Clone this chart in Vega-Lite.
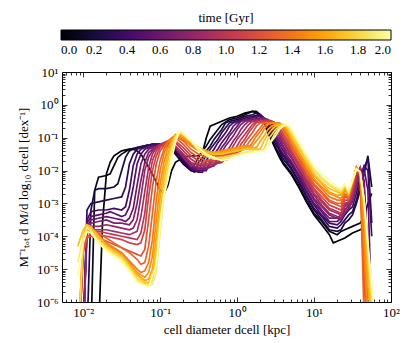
{
"$schema":"https://vega.github.io/schema/vega-lite/v6.json",
"width":329,"height":230,
"autosize":{"type":"none"},
"padding":{"left":62,"top":72,"right":21,"bottom":41},
"background":"white",
"config":{"font":"Liberation Serif","view":{"stroke":null},
"style":{"guide-label":{"font":"Liberation Serif","fill":"black"},"guide-title":{"font":"Liberation Serif","fontWeight":"normal","fill":"black"}},
"axis":{"domainColor":"black","domainWidth":1,"tickColor":"black","tickWidth":0.8,"labelColor":"black","titleColor":"black","labelFont":"Liberation Serif","titleFont":"Liberation Serif","labelFontSize":13,"titleFontSize":13,"titleFontWeight":"normal","grid":false},
"legend":{"labelFont":"Liberation Serif","titleFont":"Liberation Serif","titleFontWeight":"normal","labelFontSize":13,"titleFontSize":13}},
"data":{"values":[
{"t":0,"d":0.0158,"v":1e-7},{"t":0,"d":0.0178,"v":2.51e-4},{"t":0,"d":0.02,"v":7.94e-3},{"t":0,"d":0.0224,"v":0.0178},{"t":0,"d":0.0251,"v":0.0282},{"t":0,"d":0.0316,"v":0.0398},{"t":0,"d":0.0398,"v":0.0447},{"t":0,"d":0.0447,"v":0.0447},{"t":0,"d":0.0501,"v":0.0398},{"t":0,"d":0.0562,"v":0.0316},{"t":0,"d":0.0631,"v":0.02},{"t":0,"d":0.0794,"v":7.94e-3},{"t":0,"d":0.0891,"v":4.47e-3},{"t":0,"d":0.1,"v":2.51e-3},{"t":0,"d":0.112,"v":2e-3},{"t":0,"d":0.126,"v":3.55e-3},{"t":0,"d":0.141,"v":0.01},{"t":0,"d":0.158,"v":0.0178},{"t":0,"d":0.2,"v":0.0251},{"t":0,"d":0.251,"v":0.0282},{"t":0,"d":0.316,"v":0.0282},{"t":0,"d":0.355,"v":0.0355},{"t":0,"d":0.398,"v":0.1},{"t":0,"d":0.447,"v":0.224},{"t":0,"d":0.501,"v":0.251},{"t":0,"d":0.631,"v":0.316},{"t":0,"d":0.794,"v":0.398},{"t":0,"d":1,"v":0.447},{"t":0,"d":1.26,"v":0.562},{"t":0,"d":1.58,"v":0.631},{"t":0,"d":1.78,"v":0.562},{"t":0,"d":2,"v":0.447},{"t":0,"d":2.24,"v":0.282},{"t":0,"d":2.51,"v":0.141},{"t":0,"d":2.82,"v":0.0794},{"t":0,"d":3.16,"v":0.0447},{"t":0,"d":3.55,"v":0.0251},{"t":0,"d":3.98,"v":0.0158},{"t":0,"d":5.01,"v":7.94e-3},{"t":0,"d":6.31,"v":3.16e-3},{"t":0,"d":7.94,"v":1.12e-3},{"t":0,"d":10,"v":4.47e-4},{"t":0,"d":12.6,"v":2.24e-4},{"t":0,"d":15.8,"v":1.12e-4},{"t":0,"d":17.8,"v":6.31e-5},{"t":0,"d":20,"v":7.08e-5},{"t":0,"d":25.1,"v":8.91e-5},{"t":0,"d":31.6,"v":1.26e-4},{"t":0,"d":39.8,"v":1.58e-4},{"t":0,"d":47.9,"v":2e-4},
{"t":0.1,"d":0.0126,"v":1e-7},{"t":0.1,"d":0.0141,"v":2.51e-3},{"t":0.1,"d":0.0158,"v":6.31e-3},{"t":0.1,"d":0.02,"v":7.08e-3},{"t":0.1,"d":0.0224,"v":7.94e-3},{"t":0.1,"d":0.0251,"v":0.0141},{"t":0.1,"d":0.0282,"v":0.0251},{"t":0.1,"d":0.0316,"v":0.0316},{"t":0.1,"d":0.0398,"v":0.0447},{"t":0.1,"d":0.0501,"v":0.0501},{"t":0.1,"d":0.0631,"v":0.0562},{"t":0.1,"d":0.0794,"v":0.0631},{"t":0.1,"d":0.1,"v":0.0631},{"t":0.1,"d":0.126,"v":0.0562},{"t":0.1,"d":0.158,"v":0.0316},{"t":0.1,"d":0.2,"v":0.0158},{"t":0.1,"d":0.251,"v":0.01},{"t":0.1,"d":0.282,"v":0.0158},{"t":0.1,"d":0.316,"v":0.0251},{"t":0.1,"d":0.355,"v":0.0398},{"t":0.1,"d":0.398,"v":0.0562},{"t":0.1,"d":0.447,"v":0.0891},{"t":0.1,"d":0.501,"v":0.126},{"t":0.1,"d":0.562,"v":0.178},{"t":0.1,"d":0.631,"v":0.251},{"t":0.1,"d":0.794,"v":0.355},{"t":0.1,"d":1,"v":0.398},{"t":0.1,"d":1.26,"v":0.501},{"t":0.1,"d":1.58,"v":0.631},{"t":0.1,"d":1.78,"v":0.631},{"t":0.1,"d":2,"v":0.501},{"t":0.1,"d":2.24,"v":0.316},{"t":0.1,"d":2.51,"v":0.158},{"t":0.1,"d":2.82,"v":0.0891},{"t":0.1,"d":3.16,"v":0.0501},{"t":0.1,"d":3.55,"v":0.0316},{"t":0.1,"d":3.98,"v":0.0178},{"t":0.1,"d":5.01,"v":8.91e-3},{"t":0.1,"d":6.31,"v":3.55e-3},{"t":0.1,"d":7.94,"v":1.26e-3},{"t":0.1,"d":10,"v":5.01e-4},{"t":0.1,"d":12.6,"v":2.82e-4},{"t":0.1,"d":15.8,"v":1.41e-4},{"t":0.1,"d":20,"v":1.12e-4},{"t":0.1,"d":22.4,"v":1.41e-4},{"t":0.1,"d":25.1,"v":1.58e-4},{"t":0.1,"d":31.6,"v":2e-4},{"t":0.1,"d":39.8,"v":2.51e-4},{"t":0.1,"d":44.7,"v":3.98e-4},{"t":0.1,"d":50.1,"v":1e-3},{"t":0.1,"d":56.2,"v":2e-3},
{"t":0.2,"d":0.0112,"v":1e-7},{"t":0.2,"d":0.0126,"v":6.31e-4},{"t":0.2,"d":0.0141,"v":2.51e-3},{"t":0.2,"d":0.0158,"v":2.82e-3},{"t":0.2,"d":0.02,"v":2.82e-3},{"t":0.2,"d":0.0251,"v":3.16e-3},{"t":0.2,"d":0.0282,"v":3.98e-3},{"t":0.2,"d":0.0316,"v":0.01},{"t":0.2,"d":0.0355,"v":0.0251},{"t":0.2,"d":0.0398,"v":0.0398},{"t":0.2,"d":0.0501,"v":0.0501},{"t":0.2,"d":0.0631,"v":0.0562},{"t":0.2,"d":0.0794,"v":0.0631},{"t":0.2,"d":0.1,"v":0.0631},{"t":0.2,"d":0.126,"v":0.0562},{"t":0.2,"d":0.158,"v":0.0355},{"t":0.2,"d":0.2,"v":0.0178},{"t":0.2,"d":0.251,"v":0.01},{"t":0.2,"d":0.282,"v":8.91e-3},{"t":0.2,"d":0.316,"v":0.0178},{"t":0.2,"d":0.355,"v":0.0251},{"t":0.2,"d":0.398,"v":0.0398},{"t":0.2,"d":0.447,"v":0.0562},{"t":0.2,"d":0.501,"v":0.0891},{"t":0.2,"d":0.562,"v":0.126},{"t":0.2,"d":0.631,"v":0.178},{"t":0.2,"d":0.708,"v":0.282},{"t":0.2,"d":0.794,"v":0.316},{"t":0.2,"d":1,"v":0.355},{"t":0.2,"d":1.26,"v":0.447},{"t":0.2,"d":1.58,"v":0.501},{"t":0.2,"d":1.78,"v":0.562},{"t":0.2,"d":2,"v":0.501},{"t":0.2,"d":2.24,"v":0.355},{"t":0.2,"d":2.51,"v":0.2},{"t":0.2,"d":2.82,"v":0.112},{"t":0.2,"d":3.16,"v":0.0631},{"t":0.2,"d":3.55,"v":0.0398},{"t":0.2,"d":3.98,"v":0.0224},{"t":0.2,"d":5.01,"v":0.0112},{"t":0.2,"d":6.31,"v":4.47e-3},{"t":0.2,"d":7.94,"v":1.58e-3},{"t":0.2,"d":10,"v":6.31e-4},{"t":0.2,"d":12.6,"v":3.16e-4},{"t":0.2,"d":15.8,"v":1.58e-4},{"t":0.2,"d":20,"v":1.41e-4},{"t":0.2,"d":22.4,"v":1.58e-4},{"t":0.2,"d":25.1,"v":2.51e-4},{"t":0.2,"d":28.2,"v":3.16e-4},{"t":0.2,"d":31.6,"v":4.47e-4},{"t":0.2,"d":35.5,"v":1e-3},{"t":0.2,"d":39.8,"v":2.51e-3},{"t":0.2,"d":44.7,"v":7.94e-3},{"t":0.2,"d":50.1,"v":0.0282},{"t":0.2,"d":56.2,"v":3.16e-3},
{"t":0.3,"d":0.01,"v":1e-7},{"t":0.3,"d":0.0112,"v":6.31e-4},{"t":0.3,"d":0.0126,"v":1e-3},{"t":0.3,"d":0.0158,"v":1.12e-3},{"t":0.3,"d":0.02,"v":1.26e-3},{"t":0.3,"d":0.0251,"v":1.41e-3},{"t":0.3,"d":0.0316,"v":1.58e-3},{"t":0.3,"d":0.0355,"v":3.16e-3},{"t":0.3,"d":0.0398,"v":0.0158},{"t":0.3,"d":0.0447,"v":0.0316},{"t":0.3,"d":0.0501,"v":0.0447},{"t":0.3,"d":0.0631,"v":0.0562},{"t":0.3,"d":0.0794,"v":0.0631},{"t":0.3,"d":0.1,"v":0.0631},{"t":0.3,"d":0.126,"v":0.0562},{"t":0.3,"d":0.158,"v":0.0398},{"t":0.3,"d":0.2,"v":0.02},{"t":0.3,"d":0.251,"v":0.0112},{"t":0.3,"d":0.316,"v":8.91e-3},{"t":0.3,"d":0.355,"v":0.02},{"t":0.3,"d":0.398,"v":0.0282},{"t":0.3,"d":0.447,"v":0.0447},{"t":0.3,"d":0.501,"v":0.0631},{"t":0.3,"d":0.562,"v":0.0891},{"t":0.3,"d":0.631,"v":0.141},{"t":0.3,"d":0.708,"v":0.2},{"t":0.3,"d":0.794,"v":0.282},{"t":0.3,"d":1,"v":0.316},{"t":0.3,"d":1.26,"v":0.398},{"t":0.3,"d":1.58,"v":0.447},{"t":0.3,"d":2,"v":0.501},{"t":0.3,"d":2.24,"v":0.398},{"t":0.3,"d":2.51,"v":0.224},{"t":0.3,"d":2.82,"v":0.126},{"t":0.3,"d":3.16,"v":0.0794},{"t":0.3,"d":3.55,"v":0.0447},{"t":0.3,"d":3.98,"v":0.0282},{"t":0.3,"d":5.01,"v":0.0126},{"t":0.3,"d":6.31,"v":5.01e-3},{"t":0.3,"d":7.94,"v":1.78e-3},{"t":0.3,"d":10,"v":7.08e-4},{"t":0.3,"d":12.6,"v":3.98e-4},{"t":0.3,"d":15.8,"v":2e-4},{"t":0.3,"d":20,"v":1.78e-4},{"t":0.3,"d":22.4,"v":2.24e-4},{"t":0.3,"d":25.1,"v":3.16e-4},{"t":0.3,"d":28.2,"v":4.47e-4},{"t":0.3,"d":31.6,"v":5.62e-4},{"t":0.3,"d":35.5,"v":1.26e-3},{"t":0.3,"d":39.8,"v":3.98e-3},{"t":0.3,"d":44.7,"v":0.0126},{"t":0.3,"d":50.1,"v":0.0224},{"t":0.3,"d":56.2,"v":2.51e-4},
{"t":0.4,"d":0.01,"v":1e-7},{"t":0.4,"d":0.0112,"v":3.16e-4},{"t":0.4,"d":0.0126,"v":5.62e-4},{"t":0.4,"d":0.0158,"v":6.31e-4},{"t":0.4,"d":0.02,"v":6.31e-4},{"t":0.4,"d":0.0251,"v":7.08e-4},{"t":0.4,"d":0.0316,"v":6.31e-4},{"t":0.4,"d":0.0355,"v":7.94e-4},{"t":0.4,"d":0.0398,"v":2.51e-3},{"t":0.4,"d":0.0447,"v":0.0141},{"t":0.4,"d":0.0501,"v":0.0316},{"t":0.4,"d":0.0562,"v":0.0447},{"t":0.4,"d":0.0631,"v":0.0501},{"t":0.4,"d":0.0794,"v":0.0631},{"t":0.4,"d":0.1,"v":0.0631},{"t":0.4,"d":0.126,"v":0.0562},{"t":0.4,"d":0.158,"v":0.0447},{"t":0.4,"d":0.2,"v":0.0224},{"t":0.4,"d":0.251,"v":0.0112},{"t":0.4,"d":0.316,"v":8.91e-3},{"t":0.4,"d":0.355,"v":8.91e-3},{"t":0.4,"d":0.398,"v":0.02},{"t":0.4,"d":0.447,"v":0.0316},{"t":0.4,"d":0.501,"v":0.0447},{"t":0.4,"d":0.562,"v":0.0708},{"t":0.4,"d":0.631,"v":0.1},{"t":0.4,"d":0.708,"v":0.141},{"t":0.4,"d":0.794,"v":0.224},{"t":0.4,"d":0.891,"v":0.282},{"t":0.4,"d":1,"v":0.316},{"t":0.4,"d":1.26,"v":0.355},{"t":0.4,"d":1.58,"v":0.398},{"t":0.4,"d":2,"v":0.501},{"t":0.4,"d":2.24,"v":0.398},{"t":0.4,"d":2.51,"v":0.251},{"t":0.4,"d":2.82,"v":0.141},{"t":0.4,"d":3.16,"v":0.0891},{"t":0.4,"d":3.55,"v":0.0501},{"t":0.4,"d":3.98,"v":0.0316},{"t":0.4,"d":5.01,"v":0.0158},{"t":0.4,"d":6.31,"v":6.31e-3},{"t":0.4,"d":7.94,"v":2.24e-3},{"t":0.4,"d":10,"v":8.91e-4},{"t":0.4,"d":12.6,"v":4.47e-4},{"t":0.4,"d":15.8,"v":2.51e-4},{"t":0.4,"d":20,"v":2.24e-4},{"t":0.4,"d":22.4,"v":2.82e-4},{"t":0.4,"d":25.1,"v":4.47e-4},{"t":0.4,"d":28.2,"v":6.31e-4},{"t":0.4,"d":31.6,"v":7.94e-4},{"t":0.4,"d":35.5,"v":2e-3},{"t":0.4,"d":39.8,"v":6.31e-3},{"t":0.4,"d":44.7,"v":0.0141},{"t":0.4,"d":50.1,"v":0.01},{"t":0.4,"d":56.2,"v":1e-4},
{"t":0.5,"d":0.01,"v":1e-7},{"t":0.5,"d":0.0112,"v":2.51e-4},{"t":0.5,"d":0.0126,"v":3.98e-4},{"t":0.5,"d":0.0158,"v":4.47e-4},{"t":0.5,"d":0.02,"v":5.01e-4},{"t":0.5,"d":0.0224,"v":5.62e-4},{"t":0.5,"d":0.0251,"v":5.01e-4},{"t":0.5,"d":0.0316,"v":3.98e-4},{"t":0.5,"d":0.0355,"v":4.47e-4},{"t":0.5,"d":0.0398,"v":7.94e-4},{"t":0.5,"d":0.0447,"v":3.16e-3},{"t":0.5,"d":0.0501,"v":0.0158},{"t":0.5,"d":0.0562,"v":0.0316},{"t":0.5,"d":0.0631,"v":0.0447},{"t":0.5,"d":0.0794,"v":0.0562},{"t":0.5,"d":0.1,"v":0.0631},{"t":0.5,"d":0.126,"v":0.0631},{"t":0.5,"d":0.158,"v":0.0447},{"t":0.5,"d":0.2,"v":0.0251},{"t":0.5,"d":0.251,"v":0.0126},{"t":0.5,"d":0.316,"v":0.01},{"t":0.5,"d":0.398,"v":0.01},{"t":0.5,"d":0.447,"v":0.02},{"t":0.5,"d":0.501,"v":0.0316},{"t":0.5,"d":0.562,"v":0.0447},{"t":0.5,"d":0.631,"v":0.0708},{"t":0.5,"d":0.708,"v":0.1},{"t":0.5,"d":0.794,"v":0.141},{"t":0.5,"d":0.891,"v":0.224},{"t":0.5,"d":1,"v":0.282},{"t":0.5,"d":1.26,"v":0.355},{"t":0.5,"d":1.58,"v":0.398},{"t":0.5,"d":2,"v":0.447},{"t":0.5,"d":2.24,"v":0.398},{"t":0.5,"d":2.51,"v":0.282},{"t":0.5,"d":2.82,"v":0.178},{"t":0.5,"d":3.16,"v":0.112},{"t":0.5,"d":3.55,"v":0.0631},{"t":0.5,"d":3.98,"v":0.0398},{"t":0.5,"d":4.47,"v":0.0251},{"t":0.5,"d":5.01,"v":0.0178},{"t":0.5,"d":6.31,"v":7.08e-3},{"t":0.5,"d":7.94,"v":2.51e-3},{"t":0.5,"d":10,"v":1e-3},{"t":0.5,"d":12.6,"v":5.62e-4},{"t":0.5,"d":15.8,"v":2.82e-4},{"t":0.5,"d":20,"v":2.82e-4},{"t":0.5,"d":22.4,"v":3.55e-4},{"t":0.5,"d":25.1,"v":6.31e-4},{"t":0.5,"d":28.2,"v":8.91e-4},{"t":0.5,"d":31.6,"v":1.26e-3},{"t":0.5,"d":35.5,"v":3.16e-3},{"t":0.5,"d":39.8,"v":0.01},{"t":0.5,"d":44.7,"v":0.0112},{"t":0.5,"d":50.1,"v":2.51e-3},{"t":0.5,"d":56.2,"v":3.16e-7},
{"t":0.6,"d":0.01,"v":1e-7},{"t":0.6,"d":0.0112,"v":2e-4},{"t":0.6,"d":0.0126,"v":3.16e-4},{"t":0.6,"d":0.0158,"v":3.55e-4},{"t":0.6,"d":0.02,"v":3.98e-4},{"t":0.6,"d":0.0251,"v":3.55e-4},{"t":0.6,"d":0.0316,"v":3.16e-4},{"t":0.6,"d":0.0355,"v":2.82e-4},{"t":0.6,"d":0.0398,"v":3.55e-4},{"t":0.6,"d":0.0447,"v":7.08e-4},{"t":0.6,"d":0.0501,"v":3.55e-3},{"t":0.6,"d":0.0562,"v":0.0158},{"t":0.6,"d":0.0631,"v":0.0316},{"t":0.6,"d":0.0708,"v":0.0447},{"t":0.6,"d":0.0794,"v":0.0501},{"t":0.6,"d":0.1,"v":0.0631},{"t":0.6,"d":0.126,"v":0.0631},{"t":0.6,"d":0.158,"v":0.0501},{"t":0.6,"d":0.2,"v":0.0282},{"t":0.6,"d":0.251,"v":0.0141},{"t":0.6,"d":0.316,"v":0.0112},{"t":0.6,"d":0.398,"v":0.0112},{"t":0.6,"d":0.447,"v":0.0158},{"t":0.6,"d":0.501,"v":0.0224},{"t":0.6,"d":0.562,"v":0.0316},{"t":0.6,"d":0.631,"v":0.0501},{"t":0.6,"d":0.708,"v":0.0708},{"t":0.6,"d":0.794,"v":0.112},{"t":0.6,"d":0.891,"v":0.158},{"t":0.6,"d":1,"v":0.224},{"t":0.6,"d":1.12,"v":0.316},{"t":0.6,"d":1.26,"v":0.355},{"t":0.6,"d":1.58,"v":0.355},{"t":0.6,"d":2,"v":0.398},{"t":0.6,"d":2.24,"v":0.398},{"t":0.6,"d":2.51,"v":0.316},{"t":0.6,"d":2.82,"v":0.2},{"t":0.6,"d":3.16,"v":0.126},{"t":0.6,"d":3.55,"v":0.0794},{"t":0.6,"d":3.98,"v":0.0501},{"t":0.6,"d":4.47,"v":0.0282},{"t":0.6,"d":5.01,"v":0.02},{"t":0.6,"d":6.31,"v":7.94e-3},{"t":0.6,"d":7.94,"v":3.16e-3},{"t":0.6,"d":10,"v":1.26e-3},{"t":0.6,"d":12.6,"v":6.31e-4},{"t":0.6,"d":15.8,"v":3.55e-4},{"t":0.6,"d":20,"v":3.55e-4},{"t":0.6,"d":22.4,"v":4.47e-4},{"t":0.6,"d":25.1,"v":8.91e-4},{"t":0.6,"d":28.2,"v":1.12e-3},{"t":0.6,"d":31.6,"v":1.78e-3},{"t":0.6,"d":35.5,"v":6.31e-3},{"t":0.6,"d":39.8,"v":0.0126},{"t":0.6,"d":44.7,"v":5.01e-3},{"t":0.6,"d":50.1,"v":3.16e-5},{"t":0.6,"d":56.2,"v":3.16e-7},
{"t":0.7,"d":0.01,"v":1e-7},{"t":0.7,"d":0.0112,"v":1.58e-4},{"t":0.7,"d":0.0126,"v":2.51e-4},{"t":0.7,"d":0.0158,"v":2.82e-4},{"t":0.7,"d":0.02,"v":3.16e-4},{"t":0.7,"d":0.0251,"v":2.51e-4},{"t":0.7,"d":0.0316,"v":2.51e-4},{"t":0.7,"d":0.0398,"v":2.24e-4},{"t":0.7,"d":0.0447,"v":3.16e-4},{"t":0.7,"d":0.0501,"v":1e-3},{"t":0.7,"d":0.0562,"v":5.01e-3},{"t":0.7,"d":0.0631,"v":0.0178},{"t":0.7,"d":0.0708,"v":0.0355},{"t":0.7,"d":0.0794,"v":0.0447},{"t":0.7,"d":0.1,"v":0.0562},{"t":0.7,"d":0.126,"v":0.0631},{"t":0.7,"d":0.158,"v":0.0501},{"t":0.7,"d":0.2,"v":0.0316},{"t":0.7,"d":0.251,"v":0.0158},{"t":0.7,"d":0.316,"v":0.0112},{"t":0.7,"d":0.398,"v":0.0112},{"t":0.7,"d":0.501,"v":0.0141},{"t":0.7,"d":0.562,"v":0.0251},{"t":0.7,"d":0.631,"v":0.0355},{"t":0.7,"d":0.708,"v":0.0562},{"t":0.7,"d":0.794,"v":0.0794},{"t":0.7,"d":0.891,"v":0.112},{"t":0.7,"d":1,"v":0.178},{"t":0.7,"d":1.12,"v":0.251},{"t":0.7,"d":1.26,"v":0.316},{"t":0.7,"d":1.58,"v":0.355},{"t":0.7,"d":2,"v":0.355},{"t":0.7,"d":2.24,"v":0.398},{"t":0.7,"d":2.51,"v":0.355},{"t":0.7,"d":2.82,"v":0.251},{"t":0.7,"d":3.16,"v":0.158},{"t":0.7,"d":3.55,"v":0.1},{"t":0.7,"d":3.98,"v":0.0562},{"t":0.7,"d":4.47,"v":0.0355},{"t":0.7,"d":5.01,"v":0.0251},{"t":0.7,"d":6.31,"v":0.01},{"t":0.7,"d":7.94,"v":3.55e-3},{"t":0.7,"d":10,"v":1.41e-3},{"t":0.7,"d":12.6,"v":7.94e-4},{"t":0.7,"d":15.8,"v":4.47e-4},{"t":0.7,"d":20,"v":3.55e-4},{"t":0.7,"d":22.4,"v":3.16e-4},{"t":0.7,"d":25.1,"v":5.01e-4},{"t":0.7,"d":28.2,"v":7.08e-4},{"t":0.7,"d":31.6,"v":1.12e-3},{"t":0.7,"d":35.5,"v":3.16e-3},{"t":0.7,"d":39.8,"v":0.0112},{"t":0.7,"d":44.7,"v":3.16e-3},{"t":0.7,"d":50.1,"v":3.16e-7},
{"t":0.8,"d":0.01,"v":1e-7},{"t":0.8,"d":0.0112,"v":1.26e-4},{"t":0.8,"d":0.0126,"v":2e-4},{"t":0.8,"d":0.0158,"v":2e-4},{"t":0.8,"d":0.02,"v":2.24e-4},{"t":0.8,"d":0.0251,"v":2e-4},{"t":0.8,"d":0.0316,"v":1.78e-4},{"t":0.8,"d":0.0398,"v":1.58e-4},{"t":0.8,"d":0.0447,"v":1.78e-4},{"t":0.8,"d":0.0501,"v":3.16e-4},{"t":0.8,"d":0.0562,"v":1.58e-3},{"t":0.8,"d":0.0631,"v":0.01},{"t":0.8,"d":0.0708,"v":0.0251},{"t":0.8,"d":0.0794,"v":0.0398},{"t":0.8,"d":0.1,"v":0.0562},{"t":0.8,"d":0.126,"v":0.0708},{"t":0.8,"d":0.158,"v":0.0501},{"t":0.8,"d":0.2,"v":0.0251},{"t":0.8,"d":0.251,"v":0.0141},{"t":0.8,"d":0.316,"v":0.0126},{"t":0.8,"d":0.398,"v":0.0126},{"t":0.8,"d":0.501,"v":0.0141},{"t":0.8,"d":0.631,"v":0.0224},{"t":0.8,"d":0.708,"v":0.0355},{"t":0.8,"d":0.794,"v":0.0501},{"t":0.8,"d":0.891,"v":0.0794},{"t":0.8,"d":1,"v":0.112},{"t":0.8,"d":1.12,"v":0.178},{"t":0.8,"d":1.26,"v":0.251},{"t":0.8,"d":1.41,"v":0.316},{"t":0.8,"d":1.58,"v":0.316},{"t":0.8,"d":2,"v":0.355},{"t":0.8,"d":2.51,"v":0.355},{"t":0.8,"d":2.82,"v":0.282},{"t":0.8,"d":3.16,"v":0.2},{"t":0.8,"d":3.55,"v":0.126},{"t":0.8,"d":3.98,"v":0.0708},{"t":0.8,"d":4.47,"v":0.0447},{"t":0.8,"d":5.01,"v":0.0282},{"t":0.8,"d":6.31,"v":0.0112},{"t":0.8,"d":7.94,"v":4.47e-3},{"t":0.8,"d":10,"v":1.78e-3},{"t":0.8,"d":12.6,"v":8.91e-4},{"t":0.8,"d":15.8,"v":5.01e-4},{"t":0.8,"d":20,"v":3.98e-4},{"t":0.8,"d":22.4,"v":3.55e-4},{"t":0.8,"d":25.1,"v":6.31e-4},{"t":0.8,"d":28.2,"v":7.94e-4},{"t":0.8,"d":31.6,"v":1.41e-3},{"t":0.8,"d":35.5,"v":4.47e-3},{"t":0.8,"d":39.8,"v":0.0126},{"t":0.8,"d":44.7,"v":1e-3},{"t":0.8,"d":50.1,"v":3.16e-7},
{"t":0.9,"d":0.00891,"v":1e-7},{"t":0.9,"d":0.01,"v":6.31e-5},{"t":0.9,"d":0.0112,"v":1.41e-4},{"t":0.9,"d":0.0126,"v":1.58e-4},{"t":0.9,"d":0.0158,"v":1.58e-4},{"t":0.9,"d":0.02,"v":1.58e-4},{"t":0.9,"d":0.0251,"v":1.41e-4},{"t":0.9,"d":0.0316,"v":1.26e-4},{"t":0.9,"d":0.0398,"v":1.12e-4},{"t":0.9,"d":0.0501,"v":1.41e-4},{"t":0.9,"d":0.0562,"v":3.98e-4},{"t":0.9,"d":0.0631,"v":2.24e-3},{"t":0.9,"d":0.0708,"v":0.0126},{"t":0.9,"d":0.0794,"v":0.0316},{"t":0.9,"d":0.0891,"v":0.0501},{"t":0.9,"d":0.1,"v":0.0631},{"t":0.9,"d":0.126,"v":0.0794},{"t":0.9,"d":0.158,"v":0.0562},{"t":0.9,"d":0.2,"v":0.0316},{"t":0.9,"d":0.251,"v":0.0178},{"t":0.9,"d":0.316,"v":0.0141},{"t":0.9,"d":0.398,"v":0.0141},{"t":0.9,"d":0.501,"v":0.0158},{"t":0.9,"d":0.631,"v":0.0178},{"t":0.9,"d":0.708,"v":0.0224},{"t":0.9,"d":0.794,"v":0.0355},{"t":0.9,"d":0.891,"v":0.0562},{"t":0.9,"d":1,"v":0.0891},{"t":0.9,"d":1.12,"v":0.126},{"t":0.9,"d":1.26,"v":0.178},{"t":0.9,"d":1.41,"v":0.251},{"t":0.9,"d":1.58,"v":0.316},{"t":0.9,"d":2,"v":0.316},{"t":0.9,"d":2.51,"v":0.355},{"t":0.9,"d":2.82,"v":0.316},{"t":0.9,"d":3.16,"v":0.224},{"t":0.9,"d":3.55,"v":0.141},{"t":0.9,"d":3.98,"v":0.0891},{"t":0.9,"d":4.47,"v":0.0501},{"t":0.9,"d":5.01,"v":0.0355},{"t":0.9,"d":6.31,"v":0.0141},{"t":0.9,"d":7.94,"v":5.01e-3},{"t":0.9,"d":10,"v":2e-3},{"t":0.9,"d":12.6,"v":1.12e-3},{"t":0.9,"d":15.8,"v":6.31e-4},{"t":0.9,"d":20,"v":5.01e-4},{"t":0.9,"d":22.4,"v":4.47e-4},{"t":0.9,"d":25.1,"v":7.94e-4},{"t":0.9,"d":28.2,"v":1e-3},{"t":0.9,"d":31.6,"v":1.78e-3},{"t":0.9,"d":35.5,"v":6.31e-3},{"t":0.9,"d":39.8,"v":0.0126},{"t":0.9,"d":44.7,"v":3.16e-4},{"t":0.9,"d":50.1,"v":3.16e-7},
{"t":1.0,"d":0.00891,"v":1e-7},{"t":1.0,"d":0.01,"v":5.01e-5},{"t":1.0,"d":0.0112,"v":1.26e-4},{"t":1.0,"d":0.0126,"v":1.41e-4},{"t":1.0,"d":0.0158,"v":1.41e-4},{"t":1.0,"d":0.02,"v":1.26e-4},{"t":1.0,"d":0.0251,"v":1.12e-4},{"t":1.0,"d":0.0316,"v":1e-4},{"t":1.0,"d":0.0398,"v":8.91e-5},{"t":1.0,"d":0.0501,"v":7.94e-5},{"t":1.0,"d":0.0562,"v":1.26e-4},{"t":1.0,"d":0.0631,"v":5.01e-4},{"t":1.0,"d":0.0708,"v":5.01e-3},{"t":1.0,"d":0.0794,"v":0.02},{"t":1.0,"d":0.0891,"v":0.0398},{"t":1.0,"d":0.1,"v":0.0562},{"t":1.0,"d":0.126,"v":0.0794},{"t":1.0,"d":0.141,"v":0.0794},{"t":1.0,"d":0.158,"v":0.0708},{"t":1.0,"d":0.2,"v":0.0398},{"t":1.0,"d":0.251,"v":0.0224},{"t":1.0,"d":0.316,"v":0.0158},{"t":1.0,"d":0.398,"v":0.0158},{"t":1.0,"d":0.501,"v":0.0178},{"t":1.0,"d":0.631,"v":0.02},{"t":1.0,"d":0.794,"v":0.0224},{"t":1.0,"d":0.891,"v":0.0398},{"t":1.0,"d":1,"v":0.0562},{"t":1.0,"d":1.12,"v":0.0891},{"t":1.0,"d":1.26,"v":0.126},{"t":1.0,"d":1.41,"v":0.178},{"t":1.0,"d":1.58,"v":0.251},{"t":1.0,"d":1.78,"v":0.316},{"t":1.0,"d":2,"v":0.316},{"t":1.0,"d":2.51,"v":0.316},{"t":1.0,"d":2.82,"v":0.316},{"t":1.0,"d":3.16,"v":0.282},{"t":1.0,"d":3.55,"v":0.178},{"t":1.0,"d":3.98,"v":0.1},{"t":1.0,"d":4.47,"v":0.0631},{"t":1.0,"d":5.01,"v":0.0398},{"t":1.0,"d":6.31,"v":0.0158},{"t":1.0,"d":7.94,"v":5.62e-3},{"t":1.0,"d":10,"v":2.51e-3},{"t":1.0,"d":12.6,"v":1.26e-3},{"t":1.0,"d":15.8,"v":7.08e-4},{"t":1.0,"d":20,"v":5.62e-4},{"t":1.0,"d":22.4,"v":5.01e-4},{"t":1.0,"d":25.1,"v":1e-3},{"t":1.0,"d":28.2,"v":1.12e-3},{"t":1.0,"d":31.6,"v":2.24e-3},{"t":1.0,"d":35.5,"v":7.94e-3},{"t":1.0,"d":39.8,"v":0.0112},{"t":1.0,"d":44.7,"v":3.16e-5},{"t":1.0,"d":50.1,"v":1e-7},
{"t":1.1,"d":0.00891,"v":1e-7},{"t":1.1,"d":0.01,"v":3.98e-5},{"t":1.1,"d":0.0112,"v":1e-4},{"t":1.1,"d":0.0126,"v":1.12e-4},{"t":1.1,"d":0.0158,"v":1.12e-4},{"t":1.1,"d":0.02,"v":1e-4},{"t":1.1,"d":0.0251,"v":8.91e-5},{"t":1.1,"d":0.0316,"v":7.94e-5},{"t":1.1,"d":0.0398,"v":6.31e-5},{"t":1.1,"d":0.0501,"v":5.62e-5},{"t":1.1,"d":0.0562,"v":6.31e-5},{"t":1.1,"d":0.0631,"v":1.58e-4},{"t":1.1,"d":0.0708,"v":1.58e-3},{"t":1.1,"d":0.0794,"v":0.01},{"t":1.1,"d":0.0891,"v":0.0282},{"t":1.1,"d":0.1,"v":0.0501},{"t":1.1,"d":0.126,"v":0.0794},{"t":1.1,"d":0.141,"v":0.0891},{"t":1.1,"d":0.158,"v":0.0794},{"t":1.1,"d":0.2,"v":0.0501},{"t":1.1,"d":0.251,"v":0.0282},{"t":1.1,"d":0.316,"v":0.02},{"t":1.1,"d":0.355,"v":0.0178},{"t":1.1,"d":0.501,"v":0.02},{"t":1.1,"d":0.631,"v":0.0251},{"t":1.1,"d":0.794,"v":0.0282},{"t":1.1,"d":1,"v":0.0355},{"t":1.1,"d":1.12,"v":0.0631},{"t":1.1,"d":1.26,"v":0.0891},{"t":1.1,"d":1.41,"v":0.141},{"t":1.1,"d":1.58,"v":0.2},{"t":1.1,"d":1.78,"v":0.282},{"t":1.1,"d":2,"v":0.316},{"t":1.1,"d":2.51,"v":0.316},{"t":1.1,"d":2.82,"v":0.316},{"t":1.1,"d":3.16,"v":0.282},{"t":1.1,"d":3.55,"v":0.2},{"t":1.1,"d":3.98,"v":0.126},{"t":1.1,"d":4.47,"v":0.0794},{"t":1.1,"d":5.01,"v":0.0447},{"t":1.1,"d":6.31,"v":0.0178},{"t":1.1,"d":7.94,"v":7.08e-3},{"t":1.1,"d":10,"v":2.82e-3},{"t":1.1,"d":12.6,"v":1.58e-3},{"t":1.1,"d":15.8,"v":8.91e-4},{"t":1.1,"d":20,"v":7.08e-4},{"t":1.1,"d":22.4,"v":6.31e-4},{"t":1.1,"d":25.1,"v":1.26e-3},{"t":1.1,"d":28.2,"v":1.26e-3},{"t":1.1,"d":31.6,"v":2.82e-3},{"t":1.1,"d":35.5,"v":0.01},{"t":1.1,"d":39.8,"v":8.91e-3},{"t":1.1,"d":44.7,"v":1e-5},{"t":1.1,"d":50.1,"v":1e-7},
{"t":1.2,"d":0.00891,"v":1e-7},{"t":1.2,"d":0.01,"v":3.16e-5},{"t":1.2,"d":0.0112,"v":8.91e-5},{"t":1.2,"d":0.0126,"v":1e-4},{"t":1.2,"d":0.0158,"v":8.91e-5},{"t":1.2,"d":0.02,"v":7.08e-5},{"t":1.2,"d":0.0251,"v":5.62e-5},{"t":1.2,"d":0.0316,"v":4.47e-5},{"t":1.2,"d":0.0398,"v":3.55e-5},{"t":1.2,"d":0.0501,"v":2.82e-5},{"t":1.2,"d":0.0562,"v":2.51e-5},{"t":1.2,"d":0.0631,"v":3.98e-5},{"t":1.2,"d":0.0708,"v":3.16e-4},{"t":1.2,"d":0.0794,"v":3.16e-3},{"t":1.2,"d":0.0891,"v":0.0158},{"t":1.2,"d":0.1,"v":0.0398},{"t":1.2,"d":0.126,"v":0.0794},{"t":1.2,"d":0.158,"v":0.1},{"t":1.2,"d":0.2,"v":0.0631},{"t":1.2,"d":0.251,"v":0.0355},{"t":1.2,"d":0.316,"v":0.0251},{"t":1.2,"d":0.398,"v":0.02},{"t":1.2,"d":0.501,"v":0.0224},{"t":1.2,"d":0.631,"v":0.0282},{"t":1.2,"d":0.794,"v":0.0316},{"t":1.2,"d":1,"v":0.0355},{"t":1.2,"d":1.12,"v":0.0398},{"t":1.2,"d":1.26,"v":0.0708},{"t":1.2,"d":1.41,"v":0.1},{"t":1.2,"d":1.58,"v":0.141},{"t":1.2,"d":1.78,"v":0.224},{"t":1.2,"d":2,"v":0.282},{"t":1.2,"d":2.51,"v":0.282},{"t":1.2,"d":3.16,"v":0.282},{"t":1.2,"d":3.55,"v":0.224},{"t":1.2,"d":3.98,"v":0.141},{"t":1.2,"d":4.47,"v":0.0891},{"t":1.2,"d":5.01,"v":0.0562},{"t":1.2,"d":6.31,"v":0.0224},{"t":1.2,"d":7.94,"v":7.94e-3},{"t":1.2,"d":10,"v":3.55e-3},{"t":1.2,"d":12.6,"v":2e-3},{"t":1.2,"d":15.8,"v":1.12e-3},{"t":1.2,"d":20,"v":8.91e-4},{"t":1.2,"d":22.4,"v":7.94e-4},{"t":1.2,"d":25.1,"v":1.58e-3},{"t":1.2,"d":28.2,"v":1.41e-3},{"t":1.2,"d":31.6,"v":3.55e-3},{"t":1.2,"d":35.5,"v":0.0112},{"t":1.2,"d":39.8,"v":7.94e-3},{"t":1.2,"d":44.7,"v":3.16e-6},{"t":1.2,"d":50.1,"v":1e-7},
{"t":1.3,"d":0.00891,"v":1e-7},{"t":1.3,"d":0.01,"v":3.98e-5},{"t":1.3,"d":0.0112,"v":1.41e-4},{"t":1.3,"d":0.0126,"v":1.58e-4},{"t":1.3,"d":0.0158,"v":1.26e-4},{"t":1.3,"d":0.02,"v":8.91e-5},{"t":1.3,"d":0.0251,"v":6.31e-5},{"t":1.3,"d":0.0316,"v":4.47e-5},{"t":1.3,"d":0.0398,"v":3.16e-5},{"t":1.3,"d":0.0501,"v":2e-5},{"t":1.3,"d":0.0562,"v":1.41e-5},{"t":1.3,"d":0.0631,"v":1.58e-5},{"t":1.3,"d":0.0708,"v":5.01e-5},{"t":1.3,"d":0.0794,"v":5.01e-4},{"t":1.3,"d":0.0891,"v":5.01e-3},{"t":1.3,"d":0.1,"v":0.02},{"t":1.3,"d":0.112,"v":0.0447},{"t":1.3,"d":0.126,"v":0.0794},{"t":1.3,"d":0.158,"v":0.112},{"t":1.3,"d":0.2,"v":0.0794},{"t":1.3,"d":0.251,"v":0.0447},{"t":1.3,"d":0.316,"v":0.0316},{"t":1.3,"d":0.398,"v":0.0251},{"t":1.3,"d":0.501,"v":0.0282},{"t":1.3,"d":0.631,"v":0.0316},{"t":1.3,"d":0.794,"v":0.0355},{"t":1.3,"d":1,"v":0.0398},{"t":1.3,"d":1.26,"v":0.0447},{"t":1.3,"d":1.41,"v":0.0708},{"t":1.3,"d":1.58,"v":0.1},{"t":1.3,"d":1.78,"v":0.141},{"t":1.3,"d":2,"v":0.2},{"t":1.3,"d":2.24,"v":0.282},{"t":1.3,"d":2.82,"v":0.282},{"t":1.3,"d":3.16,"v":0.282},{"t":1.3,"d":3.55,"v":0.251},{"t":1.3,"d":3.98,"v":0.178},{"t":1.3,"d":4.47,"v":0.112},{"t":1.3,"d":5.01,"v":0.0631},{"t":1.3,"d":6.31,"v":0.0251},{"t":1.3,"d":7.94,"v":0.01},{"t":1.3,"d":10,"v":3.98e-3},{"t":1.3,"d":12.6,"v":2.24e-3},{"t":1.3,"d":15.8,"v":1.26e-3},{"t":1.3,"d":20,"v":1e-3},{"t":1.3,"d":22.4,"v":1e-3},{"t":1.3,"d":25.1,"v":1.78e-3},{"t":1.3,"d":28.2,"v":1.41e-3},{"t":1.3,"d":31.6,"v":3.98e-3},{"t":1.3,"d":35.5,"v":0.0126},{"t":1.3,"d":39.8,"v":7.08e-3},{"t":1.3,"d":44.7,"v":3.16e-7},{"t":1.3,"d":50.1,"v":1e-7},
{"t":1.4,"d":0.00891,"v":3.16e-7},{"t":1.4,"d":0.01,"v":6.31e-5},{"t":1.4,"d":0.0112,"v":1.78e-4},{"t":1.4,"d":0.0126,"v":1.78e-4},{"t":1.4,"d":0.0158,"v":1.12e-4},{"t":1.4,"d":0.02,"v":6.31e-5},{"t":1.4,"d":0.0251,"v":4.47e-5},{"t":1.4,"d":0.0316,"v":3.16e-5},{"t":1.4,"d":0.0398,"v":1.78e-5},{"t":1.4,"d":0.0501,"v":1e-5},{"t":1.4,"d":0.0562,"v":7.94e-6},{"t":1.4,"d":0.0631,"v":8.91e-6},{"t":1.4,"d":0.0708,"v":1.58e-5},{"t":1.4,"d":0.0794,"v":7.94e-5},{"t":1.4,"d":0.0891,"v":1.26e-3},{"t":1.4,"d":0.1,"v":0.01},{"t":1.4,"d":0.112,"v":0.0316},{"t":1.4,"d":0.126,"v":0.0708},{"t":1.4,"d":0.141,"v":0.1},{"t":1.4,"d":0.158,"v":0.112},{"t":1.4,"d":0.2,"v":0.0891},{"t":1.4,"d":0.251,"v":0.0562},{"t":1.4,"d":0.316,"v":0.0398},{"t":1.4,"d":0.398,"v":0.0316},{"t":1.4,"d":0.501,"v":0.0316},{"t":1.4,"d":0.631,"v":0.0355},{"t":1.4,"d":0.794,"v":0.0398},{"t":1.4,"d":1,"v":0.0447},{"t":1.4,"d":1.26,"v":0.0501},{"t":1.4,"d":1.41,"v":0.0501},{"t":1.4,"d":1.58,"v":0.0708},{"t":1.4,"d":1.78,"v":0.112},{"t":1.4,"d":2,"v":0.158},{"t":1.4,"d":2.24,"v":0.224},{"t":1.4,"d":2.51,"v":0.282},{"t":1.4,"d":3.16,"v":0.282},{"t":1.4,"d":3.55,"v":0.251},{"t":1.4,"d":3.98,"v":0.2},{"t":1.4,"d":4.47,"v":0.126},{"t":1.4,"d":5.01,"v":0.0794},{"t":1.4,"d":6.31,"v":0.0316},{"t":1.4,"d":7.94,"v":0.0112},{"t":1.4,"d":10,"v":5.01e-3},{"t":1.4,"d":12.6,"v":2.82e-3},{"t":1.4,"d":15.8,"v":1.58e-3},{"t":1.4,"d":20,"v":1.26e-3},{"t":1.4,"d":22.4,"v":1.26e-3},{"t":1.4,"d":25.1,"v":2e-3},{"t":1.4,"d":28.2,"v":1.58e-3},{"t":1.4,"d":31.6,"v":3.98e-3},{"t":1.4,"d":35.5,"v":0.0126},{"t":1.4,"d":39.8,"v":7.94e-3},{"t":1.4,"d":44.7,"v":3.16e-5},{"t":1.4,"d":50.1,"v":1e-7},
{"t":1.5,"d":0.00891,"v":3.16e-7},{"t":1.5,"d":0.01,"v":1e-4},{"t":1.5,"d":0.0112,"v":2e-4},{"t":1.5,"d":0.0126,"v":1.78e-4},{"t":1.5,"d":0.0158,"v":1e-4},{"t":1.5,"d":0.02,"v":5.62e-5},{"t":1.5,"d":0.0251,"v":3.98e-5},{"t":1.5,"d":0.0316,"v":2.82e-5},{"t":1.5,"d":0.0398,"v":1.58e-5},{"t":1.5,"d":0.0501,"v":7.94e-6},{"t":1.5,"d":0.0631,"v":5.62e-6},{"t":1.5,"d":0.0708,"v":7.94e-6},{"t":1.5,"d":0.0794,"v":2.51e-5},{"t":1.5,"d":0.0891,"v":3.16e-4},{"t":1.5,"d":0.1,"v":3.98e-3},{"t":1.5,"d":0.112,"v":0.0178},{"t":1.5,"d":0.126,"v":0.0501},{"t":1.5,"d":0.141,"v":0.0891},{"t":1.5,"d":0.158,"v":0.126},{"t":1.5,"d":0.2,"v":0.1},{"t":1.5,"d":0.251,"v":0.0631},{"t":1.5,"d":0.316,"v":0.0447},{"t":1.5,"d":0.398,"v":0.0355},{"t":1.5,"d":0.501,"v":0.0355},{"t":1.5,"d":0.631,"v":0.0398},{"t":1.5,"d":0.794,"v":0.0447},{"t":1.5,"d":1,"v":0.0501},{"t":1.5,"d":1.26,"v":0.0562},{"t":1.5,"d":1.58,"v":0.0562},{"t":1.5,"d":1.78,"v":0.0794},{"t":1.5,"d":2,"v":0.112},{"t":1.5,"d":2.24,"v":0.178},{"t":1.5,"d":2.51,"v":0.251},{"t":1.5,"d":2.82,"v":0.282},{"t":1.5,"d":3.55,"v":0.282},{"t":1.5,"d":3.98,"v":0.224},{"t":1.5,"d":4.47,"v":0.158},{"t":1.5,"d":5.01,"v":0.0891},{"t":1.5,"d":6.31,"v":0.0355},{"t":1.5,"d":7.94,"v":0.0141},{"t":1.5,"d":10,"v":5.62e-3},{"t":1.5,"d":12.6,"v":3.16e-3},{"t":1.5,"d":15.8,"v":2e-3},{"t":1.5,"d":20,"v":1.58e-3},{"t":1.5,"d":22.4,"v":1.41e-3},{"t":1.5,"d":25.1,"v":2.51e-3},{"t":1.5,"d":28.2,"v":1.78e-3},{"t":1.5,"d":31.6,"v":4.47e-3},{"t":1.5,"d":35.5,"v":0.0126},{"t":1.5,"d":39.8,"v":7.94e-3},{"t":1.5,"d":44.7,"v":1.58e-4},{"t":1.5,"d":50.1,"v":3.16e-7},
{"t":1.6,"d":0.00891,"v":3.16e-7},{"t":1.6,"d":0.01,"v":1e-4},{"t":1.6,"d":0.0112,"v":2.24e-4},{"t":1.6,"d":0.0126,"v":2e-4},{"t":1.6,"d":0.0158,"v":1e-4},{"t":1.6,"d":0.02,"v":5.01e-5},{"t":1.6,"d":0.0251,"v":3.55e-5},{"t":1.6,"d":0.0316,"v":2.51e-5},{"t":1.6,"d":0.0398,"v":1.41e-5},{"t":1.6,"d":0.0501,"v":7.08e-6},{"t":1.6,"d":0.0631,"v":4.47e-6},{"t":1.6,"d":0.0708,"v":5.01e-6},{"t":1.6,"d":0.0794,"v":1e-5},{"t":1.6,"d":0.0891,"v":1e-4},{"t":1.6,"d":0.1,"v":1.58e-3},{"t":1.6,"d":0.112,"v":0.01},{"t":1.6,"d":0.126,"v":0.0316},{"t":1.6,"d":0.141,"v":0.0794},{"t":1.6,"d":0.158,"v":0.112},{"t":1.6,"d":0.178,"v":0.126},{"t":1.6,"d":0.2,"v":0.112},{"t":1.6,"d":0.251,"v":0.0708},{"t":1.6,"d":0.316,"v":0.0501},{"t":1.6,"d":0.398,"v":0.0398},{"t":1.6,"d":0.501,"v":0.0355},{"t":1.6,"d":0.631,"v":0.0355},{"t":1.6,"d":0.794,"v":0.0398},{"t":1.6,"d":1,"v":0.0447},{"t":1.6,"d":1.26,"v":0.0501},{"t":1.6,"d":1.58,"v":0.0501},{"t":1.6,"d":1.78,"v":0.0501},{"t":1.6,"d":2,"v":0.0794},{"t":1.6,"d":2.24,"v":0.112},{"t":1.6,"d":2.51,"v":0.178},{"t":1.6,"d":2.82,"v":0.224},{"t":1.6,"d":3.16,"v":0.251},{"t":1.6,"d":3.98,"v":0.251},{"t":1.6,"d":4.47,"v":0.178},{"t":1.6,"d":5.01,"v":0.1},{"t":1.6,"d":6.31,"v":0.0398},{"t":1.6,"d":7.94,"v":0.0158},{"t":1.6,"d":10,"v":7.08e-3},{"t":1.6,"d":12.6,"v":3.98e-3},{"t":1.6,"d":15.8,"v":2.24e-3},{"t":1.6,"d":20,"v":1.78e-3},{"t":1.6,"d":22.4,"v":1.78e-3},{"t":1.6,"d":25.1,"v":2.82e-3},{"t":1.6,"d":28.2,"v":2e-3},{"t":1.6,"d":31.6,"v":4.47e-3},{"t":1.6,"d":35.5,"v":0.0112},{"t":1.6,"d":39.8,"v":8.91e-3},{"t":1.6,"d":44.7,"v":5.01e-4},{"t":1.6,"d":50.1,"v":3.16e-6},{"t":1.6,"d":56.2,"v":1e-7},
{"t":1.7,"d":0.00851,"v":5.01e-5},{"t":1.7,"d":0.01,"v":1.58e-4},{"t":1.7,"d":0.0112,"v":2.24e-4},{"t":1.7,"d":0.0126,"v":1.78e-4},{"t":1.7,"d":0.0158,"v":1e-4},{"t":1.7,"d":0.02,"v":5.01e-5},{"t":1.7,"d":0.0251,"v":3.55e-5},{"t":1.7,"d":0.0316,"v":2.51e-5},{"t":1.7,"d":0.0398,"v":1.26e-5},{"t":1.7,"d":0.0501,"v":6.31e-6},{"t":1.7,"d":0.0631,"v":3.98e-6},{"t":1.7,"d":0.0708,"v":3.98e-6},{"t":1.7,"d":0.0794,"v":6.31e-6},{"t":1.7,"d":0.0891,"v":3.98e-5},{"t":1.7,"d":0.1,"v":6.31e-4},{"t":1.7,"d":0.112,"v":5.01e-3},{"t":1.7,"d":0.126,"v":0.02},{"t":1.7,"d":0.141,"v":0.0631},{"t":1.7,"d":0.158,"v":0.112},{"t":1.7,"d":0.178,"v":0.141},{"t":1.7,"d":0.2,"v":0.126},{"t":1.7,"d":0.251,"v":0.0794},{"t":1.7,"d":0.316,"v":0.0501},{"t":1.7,"d":0.398,"v":0.0355},{"t":1.7,"d":0.501,"v":0.0316},{"t":1.7,"d":0.631,"v":0.0316},{"t":1.7,"d":0.794,"v":0.0355},{"t":1.7,"d":1,"v":0.0398},{"t":1.7,"d":1.26,"v":0.0447},{"t":1.7,"d":1.58,"v":0.0447},{"t":1.7,"d":2,"v":0.0447},{"t":1.7,"d":2.24,"v":0.0794},{"t":1.7,"d":2.51,"v":0.126},{"t":1.7,"d":2.82,"v":0.178},{"t":1.7,"d":3.16,"v":0.224},{"t":1.7,"d":3.55,"v":0.251},{"t":1.7,"d":3.98,"v":0.251},{"t":1.7,"d":4.47,"v":0.2},{"t":1.7,"d":5.01,"v":0.126},{"t":1.7,"d":6.31,"v":0.0501},{"t":1.7,"d":7.94,"v":0.02},{"t":1.7,"d":10,"v":7.94e-3},{"t":1.7,"d":12.6,"v":4.47e-3},{"t":1.7,"d":15.8,"v":2.82e-3},{"t":1.7,"d":20,"v":2.24e-3},{"t":1.7,"d":22.4,"v":2e-3},{"t":1.7,"d":25.1,"v":3.16e-3},{"t":1.7,"d":28.2,"v":2e-3},{"t":1.7,"d":31.6,"v":5.01e-3},{"t":1.7,"d":35.5,"v":0.0112},{"t":1.7,"d":39.8,"v":8.91e-3},{"t":1.7,"d":44.7,"v":1e-3},{"t":1.7,"d":50.1,"v":1.58e-5},{"t":1.7,"d":56.2,"v":3.16e-7},
{"t":1.8,"d":0.00891,"v":3.16e-7},{"t":1.8,"d":0.01,"v":7.94e-5},{"t":1.8,"d":0.0112,"v":2e-4},{"t":1.8,"d":0.0126,"v":1.58e-4},{"t":1.8,"d":0.0158,"v":7.94e-5},{"t":1.8,"d":0.02,"v":4.47e-5},{"t":1.8,"d":0.0251,"v":3.16e-5},{"t":1.8,"d":0.0316,"v":2.24e-5},{"t":1.8,"d":0.0398,"v":1.12e-5},{"t":1.8,"d":0.0501,"v":5.01e-6},{"t":1.8,"d":0.0631,"v":3.55e-6},{"t":1.8,"d":0.0708,"v":3.55e-6},{"t":1.8,"d":0.0794,"v":4.47e-6},{"t":1.8,"d":0.0891,"v":1.58e-5},{"t":1.8,"d":0.1,"v":2.51e-4},{"t":1.8,"d":0.112,"v":2.51e-3},{"t":1.8,"d":0.126,"v":0.0112},{"t":1.8,"d":0.141,"v":0.0447},{"t":1.8,"d":0.158,"v":0.1},{"t":1.8,"d":0.178,"v":0.141},{"t":1.8,"d":0.2,"v":0.126},{"t":1.8,"d":0.251,"v":0.0794},{"t":1.8,"d":0.316,"v":0.0447},{"t":1.8,"d":0.398,"v":0.0316},{"t":1.8,"d":0.501,"v":0.0251},{"t":1.8,"d":0.631,"v":0.0251},{"t":1.8,"d":0.794,"v":0.0282},{"t":1.8,"d":1,"v":0.0316},{"t":1.8,"d":1.26,"v":0.0355},{"t":1.8,"d":1.58,"v":0.0398},{"t":1.8,"d":2,"v":0.0398},{"t":1.8,"d":2.24,"v":0.0447},{"t":1.8,"d":2.51,"v":0.0891},{"t":1.8,"d":2.82,"v":0.126},{"t":1.8,"d":3.16,"v":0.178},{"t":1.8,"d":3.55,"v":0.224},{"t":1.8,"d":3.98,"v":0.251},{"t":1.8,"d":4.47,"v":0.224},{"t":1.8,"d":5.01,"v":0.141},{"t":1.8,"d":6.31,"v":0.0562},{"t":1.8,"d":7.94,"v":0.0224},{"t":1.8,"d":10,"v":0.01},{"t":1.8,"d":12.6,"v":5.62e-3},{"t":1.8,"d":15.8,"v":3.55e-3},{"t":1.8,"d":20,"v":2.51e-3},{"t":1.8,"d":22.4,"v":2.24e-3},{"t":1.8,"d":25.1,"v":3.55e-3},{"t":1.8,"d":28.2,"v":2.24e-3},{"t":1.8,"d":31.6,"v":5.01e-3},{"t":1.8,"d":35.5,"v":0.0112},{"t":1.8,"d":39.8,"v":8.91e-3},{"t":1.8,"d":44.7,"v":1.26e-3},{"t":1.8,"d":50.1,"v":3.98e-5},{"t":1.8,"d":56.2,"v":1e-6},{"t":1.8,"d":63.1,"v":1e-7},
{"t":1.9,"d":0.00851,"v":1.58e-5},{"t":1.9,"d":0.01,"v":1e-4},{"t":1.9,"d":0.0112,"v":1.78e-4},{"t":1.9,"d":0.0126,"v":1.41e-4},{"t":1.9,"d":0.0158,"v":7.08e-5},{"t":1.9,"d":0.02,"v":3.98e-5},{"t":1.9,"d":0.0251,"v":2.82e-5},{"t":1.9,"d":0.0316,"v":2e-5},{"t":1.9,"d":0.0398,"v":1e-5},{"t":1.9,"d":0.0501,"v":4.47e-6},{"t":1.9,"d":0.0631,"v":3.16e-6},{"t":1.9,"d":0.0708,"v":3.16e-6},{"t":1.9,"d":0.0794,"v":3.55e-6},{"t":1.9,"d":0.0891,"v":7.94e-6},{"t":1.9,"d":0.1,"v":1.26e-4},{"t":1.9,"d":0.112,"v":1.58e-3},{"t":1.9,"d":0.126,"v":7.94e-3},{"t":1.9,"d":0.141,"v":0.0355},{"t":1.9,"d":0.158,"v":0.1},{"t":1.9,"d":0.178,"v":0.158},{"t":1.9,"d":0.2,"v":0.126},{"t":1.9,"d":0.251,"v":0.0794},{"t":1.9,"d":0.316,"v":0.0398},{"t":1.9,"d":0.398,"v":0.0282},{"t":1.9,"d":0.501,"v":0.0224},{"t":1.9,"d":0.631,"v":0.0224},{"t":1.9,"d":0.794,"v":0.0251},{"t":1.9,"d":1,"v":0.0282},{"t":1.9,"d":1.26,"v":0.0355},{"t":1.9,"d":1.58,"v":0.0398},{"t":1.9,"d":2,"v":0.0398},{"t":1.9,"d":2.24,"v":0.0398},{"t":1.9,"d":2.51,"v":0.0562},{"t":1.9,"d":2.82,"v":0.0891},{"t":1.9,"d":3.16,"v":0.141},{"t":1.9,"d":3.55,"v":0.2},{"t":1.9,"d":3.98,"v":0.251},{"t":1.9,"d":4.47,"v":0.251},{"t":1.9,"d":5.01,"v":0.178},{"t":1.9,"d":6.31,"v":0.0708},{"t":1.9,"d":7.94,"v":0.0282},{"t":1.9,"d":10,"v":0.0112},{"t":1.9,"d":12.6,"v":6.31e-3},{"t":1.9,"d":15.8,"v":3.98e-3},{"t":1.9,"d":20,"v":2.82e-3},{"t":1.9,"d":22.4,"v":2.51e-3},{"t":1.9,"d":25.1,"v":3.55e-3},{"t":1.9,"d":28.2,"v":2.24e-3},{"t":1.9,"d":31.6,"v":5.01e-3},{"t":1.9,"d":35.5,"v":0.0112},{"t":1.9,"d":39.8,"v":8.91e-3},{"t":1.9,"d":44.7,"v":1.26e-3},{"t":1.9,"d":50.1,"v":5.01e-5},{"t":1.9,"d":56.2,"v":2e-6},{"t":1.9,"d":63.1,"v":1e-7},
{"t":2.0,"d":0.00851,"v":6.31e-6},{"t":2.0,"d":0.01,"v":6.31e-5},{"t":2.0,"d":0.0112,"v":1.41e-4},{"t":2.0,"d":0.0126,"v":1.26e-4},{"t":2.0,"d":0.0158,"v":6.31e-5},{"t":2.0,"d":0.02,"v":3.55e-5},{"t":2.0,"d":0.0251,"v":2.51e-5},{"t":2.0,"d":0.0316,"v":1.58e-5},{"t":2.0,"d":0.0398,"v":8.91e-6},{"t":2.0,"d":0.0501,"v":3.98e-6},{"t":2.0,"d":0.0631,"v":3.16e-6},{"t":2.0,"d":0.0708,"v":2.82e-6},{"t":2.0,"d":0.0794,"v":6.31e-6},{"t":2.0,"d":0.0891,"v":1.26e-5},{"t":2.0,"d":0.1,"v":2.51e-4},{"t":2.0,"d":0.112,"v":1.78e-3},{"t":2.0,"d":0.126,"v":5.01e-3},{"t":2.0,"d":0.141,"v":0.0224},{"t":2.0,"d":0.158,"v":0.0708},{"t":2.0,"d":0.178,"v":0.158},{"t":2.0,"d":0.2,"v":0.141},{"t":2.0,"d":0.251,"v":0.0794},{"t":2.0,"d":0.316,"v":0.0501},{"t":2.0,"d":0.398,"v":0.0316},{"t":2.0,"d":0.501,"v":0.0251},{"t":2.0,"d":0.631,"v":0.02},{"t":2.0,"d":0.794,"v":0.0224},{"t":2.0,"d":1,"v":0.0282},{"t":2.0,"d":1.26,"v":0.0316},{"t":2.0,"d":1.58,"v":0.0355},{"t":2.0,"d":2,"v":0.0398},{"t":2.0,"d":2.24,"v":0.0398},{"t":2.0,"d":2.51,"v":0.0562},{"t":2.0,"d":2.82,"v":0.0794},{"t":2.0,"d":3.16,"v":0.112},{"t":2.0,"d":3.55,"v":0.178},{"t":2.0,"d":3.98,"v":0.224},{"t":2.0,"d":4.47,"v":0.251},{"t":2.0,"d":5.01,"v":0.2},{"t":2.0,"d":6.31,"v":0.0794},{"t":2.0,"d":7.94,"v":0.0316},{"t":2.0,"d":10,"v":0.0141},{"t":2.0,"d":12.6,"v":7.94e-3},{"t":2.0,"d":15.8,"v":5.01e-3},{"t":2.0,"d":20,"v":3.16e-3},{"t":2.0,"d":22.4,"v":2.82e-3},{"t":2.0,"d":25.1,"v":3.98e-3},{"t":2.0,"d":28.2,"v":2.51e-3},{"t":2.0,"d":31.6,"v":5.01e-3},{"t":2.0,"d":35.5,"v":0.0112},{"t":2.0,"d":39.8,"v":8.91e-3},{"t":2.0,"d":44.7,"v":1.26e-3},{"t":2.0,"d":50.1,"v":6.31e-5},{"t":2.0,"d":56.2,"v":3.98e-6},{"t":2.0,"d":63.1,"v":1e-7}
]},
"layer":[
{"mark":{"type":"line","strokeWidth":1.7,"clip":true,"interpolate":"linear"},
 "encoding":{
  "x":{"field":"d","type":"quantitative","scale":{"type":"log","domain":[0.0053,100],"nice":false},
       "axis":{"orient":"bottom","values":[0.01,0.1,1,10,100],"labelExpr":"['10⁻³','10⁻²','10⁻¹','10⁰','10¹','10²'][round(log(datum.value)/LN10)+3]","tickSize":-5,"labelPadding":9,"title":"cell diameter dcell [kpc]","titlePadding":4,"labelFlush":false,"labelFont":"Liberation Serif","titleFont":"Liberation Serif"}},
  "y":{"field":"v","type":"quantitative","scale":{"type":"log","domain":[1e-6,10],"nice":false},
       "axis":{"orient":"left","values":[1e-6,1e-5,1e-4,1e-3,1e-2,1e-1,1,10],"labelExpr":"['10⁻⁶','10⁻⁵','10⁻⁴','10⁻³','10⁻²','10⁻¹','10⁰','10¹'][round(log(datum.value)/LN10)+6]","tickSize":-5,"labelPadding":9,"title":"M⁻¹ₜₒₜ d M/d log₁₀ dcell [dex⁻¹]","titlePadding":6,"labelFlush":false,"labelFont":"Liberation Serif","titleFont":"Liberation Serif"}},
  "detail":{"field":"t","type":"nominal"},
  "color":{"field":"t","type":"quantitative","scale":{"scheme":"inferno","domain":[0,2]},
       "legend":{"orient":"none","legendX":-1,"legendY":-60,"direction":"horizontal","gradientLength":330,"gradientThickness":10,"title":"time [Gyr]","titleAnchor":"middle","titleFont":"Liberation Serif","titleFontSize":13,"titleFontWeight":"normal","titlePadding":5,"labelFont":"Liberation Serif","labelFontSize":13,"labelAlign":"center","labelOffset":4,"values":[0,0.2,0.4,0.6,0.8,1,1.2,1.4,1.6,1.8,2],"format":".1f","gradientStrokeColor":"black","gradientStrokeWidth":1,"labelColor":"black","titleColor":"black"}}
 }},
{"transform":[{"filter":"datum.t == 0"}],
 "mark":{"type":"point","opacity":0},
 "encoding":{
  "x":{"field":"d","type":"quantitative","scale":{"type":"log","domain":[0.0053,100],"nice":false},
       "axis":{"orient":"bottom","values":[0.006,0.007,0.008,0.009,0.02,0.03,0.04,0.05,0.06,0.07,0.08,0.09,0.2,0.3,0.4,0.5,0.6,0.7,0.8,0.9,2,3,4,5,6,7,8,9,20,30,40,50,60,70,80,90],"labels":false,"domain":false,"tickSize":-3,"title":null}},
  "y":{"field":"v","type":"quantitative","scale":{"type":"log","domain":[1e-6,10],"nice":false},
       "axis":{"orient":"left","values":[2e-6,3e-6,4e-6,5e-6,6e-6,7e-6,8e-6,9e-6,2e-5,3e-5,4e-5,5e-5,6e-5,7e-5,8e-5,9e-5,2e-4,3e-4,4e-4,5e-4,6e-4,7e-4,8e-4,9e-4,2e-3,3e-3,4e-3,5e-3,6e-3,7e-3,8e-3,9e-3,0.02,0.03,0.04,0.05,0.06,0.07,0.08,0.09,0.2,0.3,0.4,0.5,0.6,0.7,0.8,0.9,2,3,4,5,6,7,8,9],"labels":false,"domain":false,"tickSize":-3,"title":null}}
 }},
{"transform":[{"filter":"datum.t == 0"}],
 "mark":{"type":"point","opacity":0},
 "encoding":{
  "x":{"field":"d","type":"quantitative","scale":{"type":"log","domain":[0.0053,100],"nice":false},
       "axis":{"orient":"top","values":[0.01,0.1,1,10,100],"labels":false,"tickSize":-5,"title":null}},
  "y":{"field":"v","type":"quantitative","scale":{"type":"log","domain":[1e-6,10],"nice":false},
       "axis":{"orient":"right","values":[1e-6,1e-5,1e-4,1e-3,1e-2,1e-1,1,10],"labels":false,"tickSize":-5,"title":null}}
 }},
{"transform":[{"filter":"datum.t == 0"}],
 "mark":{"type":"point","opacity":0},
 "encoding":{
  "x":{"field":"d","type":"quantitative","scale":{"type":"log","domain":[0.0053,100],"nice":false},
       "axis":{"orient":"top","values":[0.006,0.007,0.008,0.009,0.02,0.03,0.04,0.05,0.06,0.07,0.08,0.09,0.2,0.3,0.4,0.5,0.6,0.7,0.8,0.9,2,3,4,5,6,7,8,9,20,30,40,50,60,70,80,90],"labels":false,"domain":false,"tickSize":-3,"title":null}},
  "y":{"field":"v","type":"quantitative","scale":{"type":"log","domain":[1e-6,10],"nice":false},
       "axis":{"orient":"right","values":[2e-6,3e-6,4e-6,5e-6,6e-6,7e-6,8e-6,9e-6,2e-5,3e-5,4e-5,5e-5,6e-5,7e-5,8e-5,9e-5,2e-4,3e-4,4e-4,5e-4,6e-4,7e-4,8e-4,9e-4,2e-3,3e-3,4e-3,5e-3,6e-3,7e-3,8e-3,9e-3,0.02,0.03,0.04,0.05,0.06,0.07,0.08,0.09,0.2,0.3,0.4,0.5,0.6,0.7,0.8,0.9,2,3,4,5,6,7,8,9],"labels":false,"domain":false,"tickSize":-3,"title":null}}
 }}
],
"resolve":{"scale":{"x":"independent","y":"independent"}}
}
